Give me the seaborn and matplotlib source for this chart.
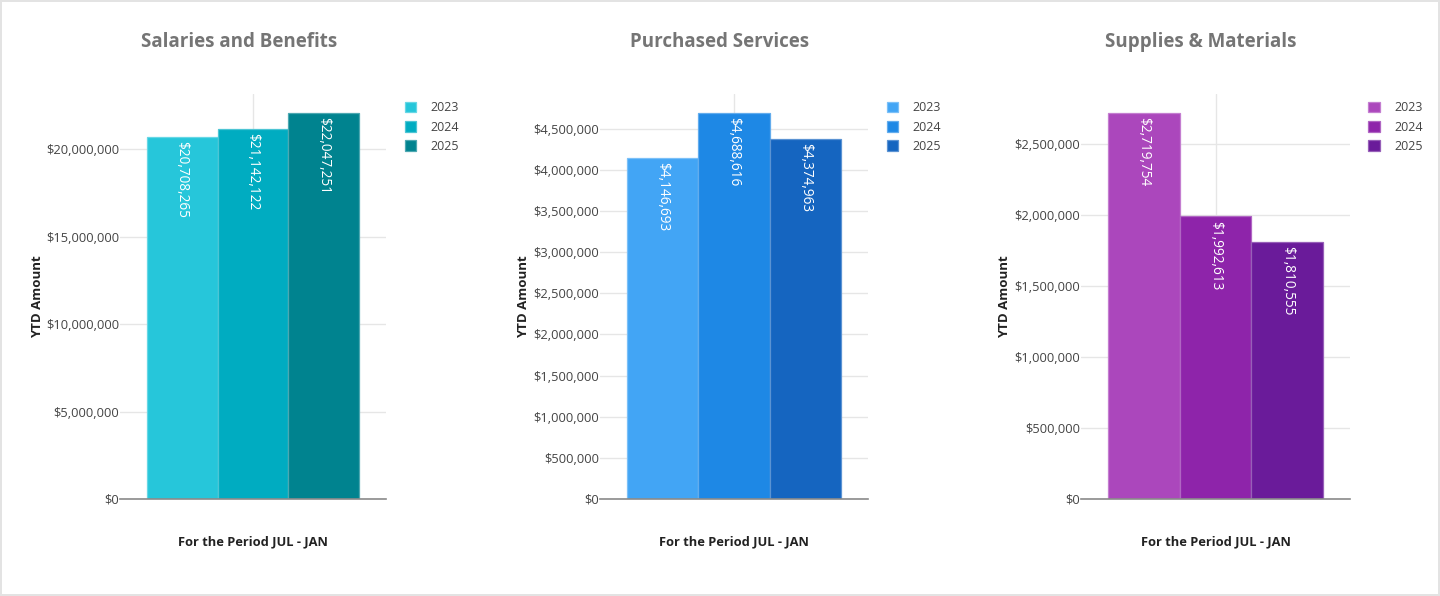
import matplotlib
matplotlib.use("Agg")
import matplotlib.pyplot as plt
import matplotlib.colors as mcolors
from matplotlib.ticker import FuncFormatter, MultipleLocator
from matplotlib.patches import Patch
import pandas as pd
import seaborn as sns

# ---- data ----
years = ["2023", "2024", "2025"]
titles = ["Salaries and Benefits", "Purchased Services", "Supplies & Materials"]
salaries = [20708265, 21142122, 22047251]
services = [4146693, 4688616, 4374963]
supplies = [2719754, 1992613, 1810555]
period_label = "For the Period JUL - JAN"
y_label = "YTD Amount"

palettes = [
    ["#26C6DA", "#00ACC1", "#00838F"],
    ["#42A5F5", "#1E88E5", "#1565C0"],
    ["#AB47BC", "#8E24AA", "#6A1B9A"],
]
tick_steps = [5_000_000, 500_000, 500_000]

sns.set_theme(style="white")
plt.rcParams["font.family"] = ["Open Sans", "DejaVu Sans"]

W, H = 1440, 596
fig = plt.figure(figsize=(W / 100, H / 100), dpi=100)
fig.patch.set_facecolor("white")
fig.patch.set_edgecolor("#e3e3e3")
fig.patch.set_linewidth(1.5)

# panel geometry in pixels: (left, width)
panels = [(120, 266), (600, 268), (1081, 269)]
ax_top, ax_bottom = 94, 499
title_x = [239, 720, 1201]
ylabel_x = [44, 530, 1011]


def tint(color, amount=0.3):
    rgb = mcolors.to_rgb(color)
    return tuple(c + (1 - c) * amount for c in rgb)


series = [salaries, services, supplies]

for i, (values, title, pal) in enumerate(zip(series, titles, palettes)):
    left, width = panels[i]
    ax = fig.add_axes([left / W, 1 - ax_bottom / H, width / W, (ax_bottom - ax_top) / H])
    df = pd.DataFrame({"period": [period_label] * 3, "year": years, "amount": values})
    sns.barplot(data=df, x="period", y="amount", hue="year", hue_order=years,
                palette=pal, ax=ax, width=0.8, saturation=1, errorbar=None,
                legend=False)

    # bar outlines in a lighter tint of each fill
    for cont in ax.containers:
        for bar in cont:
            bar.set_edgecolor(tint(bar.get_facecolor()))
            bar.set_linewidth(0.9)

    # value labels inside the top of each bar
    for cont, val in zip(ax.containers, values):
        bar = cont[0]
        ax.annotate(f"${val:,.0f}",
                    xy=(bar.get_x() + bar.get_width() / 2, bar.get_height()),
                    xytext=(0, -3), textcoords="offset points",
                    rotation=-90, ha="center", va="top",
                    color="white", fontsize=9.8)

    ax.set_xlim(-0.5, 0.5)
    ax.set_ylim(0, max(values) * 1.05)
    ax.yaxis.set_major_locator(MultipleLocator(tick_steps[i]))
    ax.yaxis.set_major_formatter(FuncFormatter(lambda v, p: f"${v:,.0f}"))
    ax.set_xticks([0])
    ax.set_xticklabels([])
    ax.tick_params(axis="x", length=0)
    ax.tick_params(axis="y", length=0, pad=0.5, labelsize=9.25, labelcolor="#444444")

    ax.grid(True, axis="both", color="#e6e6e6", linewidth=1)
    ax.set_axisbelow(True)
    for s in ["top", "right", "left"]:
        ax.spines[s].set_visible(False)
    ax.spines["bottom"].set_color("#8a8a8a")
    ax.spines["bottom"].set_linewidth(1.2)

    ax.set_ylabel(y_label, fontsize=9.5, fontweight="bold", color="#222222")
    ax.yaxis.set_label_coords((ylabel_x[i] - left) / width, 0.5)
    ax.set_xlabel(period_label, fontsize=9.25, fontweight="bold", color="#222222")
    ax.xaxis.set_label_coords(0.5, (ax_bottom - 542) / (ax_bottom - ax_top))
    ax.xaxis.label.set_va("center")

    fig.text(title_x[i] / W, 1 - 42 / H, title, ha="center", va="center",
             fontsize=13.5, fontweight="bold", color="#757575")

    handles = [Patch(facecolor=c, edgecolor=tint(c), linewidth=0.9) for c in pal]
    ax.legend(handles, years, loc="upper left",
              bbox_to_anchor=((left + width + 16) / width - left / width,
                              (ax_bottom - 99) / (ax_bottom - ax_top)),
              frameon=False, fontsize=9, handlelength=0.9, handleheight=0.9,
              handletextpad=1.2, labelspacing=0.5, borderaxespad=0, borderpad=0.2,
              labelcolor="#444444")

fig.savefig("out.png", dpi=100, facecolor=fig.get_facecolor(), edgecolor=fig.get_edgecolor())
